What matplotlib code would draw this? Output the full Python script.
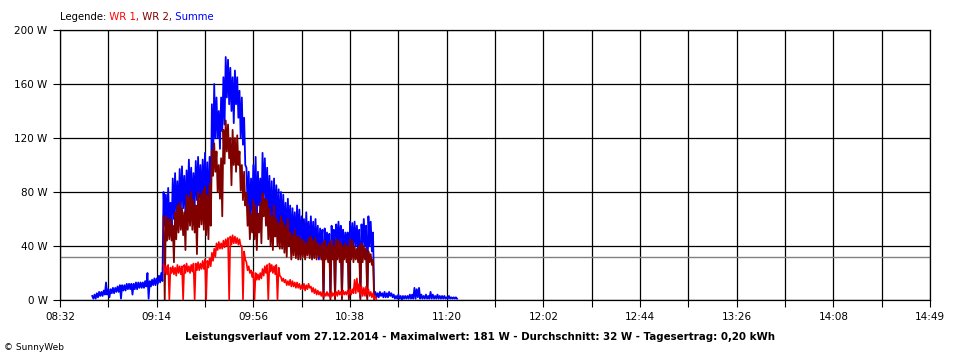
import numpy as np
import matplotlib
matplotlib.use("Agg")
import matplotlib.pyplot as plt

# time axis in minutes after midnight
t_first = 512          # 08:32
t_step = 42
tick_labels = ["08:32", "09:14", "09:56", "10:38", "11:20",
               "12:02", "12:44", "13:26", "14:08", "14:49"]
y_ticks = [0, 40, 80, 120, 160, 200]
avg_w = 32

# Summe (blue), one value pair per minute starting 08:46
sum_start = 526
sum_hi = [3, 4, 5, 6, 6, 7, 13, 8, 8, 9, 9, 10, 11, 11, 11, 12, 12, 12, 12, 13, 13,
          13, 13, 14, 20, 14, 15, 16, 16, 18, 20,
          80, 78, 83, 72, 90, 94, 88, 97, 99, 92, 96, 104, 98, 94, 103, 106, 100, 104,
          109, 102, 106, 145, 160, 150, 140, 150, 165, 180, 178, 172, 165, 170, 165,
          155, 150, 135, 98, 95, 90, 100, 106, 95, 90, 109, 105, 98, 92, 88, 90, 85,
          82, 80, 78, 72, 75, 70, 68, 65, 70, 67, 62, 60, 65, 58, 62, 58, 60, 55,
          53, 52, 53, 50, 49, 55, 52, 56, 58, 55, 52, 50, 50, 58, 57, 58, 55, 52, 56,
          60, 55, 62, 58, 50,
          6, 5, 6, 5, 6, 5, 6, 5, 4, 3, 4, 3,
          3, 3, 3, 4, 4, 9, 8, 9, 4, 3, 4, 3, 6, 4, 3, 4, 3, 3, 3, 2, 3, 2, 2, 2]
sum_lo = [1, 1, 2, 3, 3, 4, 4, 2, 5, 5, 6, 6, 1, 7, 7, 8, 8, 4, 8, 8, 9,
          9, 9, 10, 1, 10, 11, 11, 12, 13, 14,
          55, 56, 58, 54, 60, 62, 58, 66, 68, 62, 70, 72, 66, 68, 74, 76, 70, 72,
          66, 62, 70, 100, 120, 120, 112, 125, 130, 150, 145, 140, 131, 145, 135,
          120, 115, 100, 70, 60, 62, 65, 55, 70, 60, 75, 70, 60, 55, 50, 58, 52,
          48, 50, 45, 42, 48, 40, 44, 38, 42, 40, 38, 35, 40, 36, 35, 32, 36, 30,
          35, 2, 38, 36, 2, 38, 2, 40, 38, 2, 36, 38, 2, 40, 38, 40, 36, 2, 38,
          40, 2, 40, 36, 2,
          2, 2, 3, 2, 2, 2, 3, 2, 1, 1, 1, 0,
          1, 1, 1, 1, 1, 1, 2, 1, 1, 1, 1, 1, 1, 1, 1, 1, 1, 1, 1, 1, 1, 1, 1, 1]

# WR 1 (red), from 09:17
wr1_start = 557
wr1_hi = [26, 25, 26, 24, 25, 24, 26, 25, 25, 26, 27, 25, 26, 27, 27, 28, 27, 29,
          30, 29, 31, 35, 38, 42, 43, 42, 44, 45, 46, 47, 48, 47, 46, 45, 40, 36,
          28, 25, 22, 21, 20, 19, 20, 23, 25, 26, 27, 26, 25, 26, 24, 17, 16, 15,
          14, 15, 14, 13, 13, 12, 11, 12, 11, 12, 10, 9, 8, 7, 6, 6, 5, 6, 5, 6,
          5, 6, 7, 6, 7, 6, 7, 8, 8, 15, 16, 12, 10, 9, 10, 8, 6, 5, 3]
wr1_lo = [20, 19, 0, 20, 19, 18, 20, 19, 0, 20, 21, 20, 21, 0, 22, 22, 23, 23,
          0, 24, 25, 29, 32, 37, 38, 38, 39, 40, 0, 41, 42, 42, 41, 40, 0, 30,
          22, 20, 17, 0, 15, 15, 16, 18, 20, 0, 21, 20, 19, 0, 18, 14, 13, 11,
          11, 10, 10, 9, 9, 8, 8, 7, 8, 9, 6, 5, 4, 4, 3, 3, 3, 3, 2, 3,
          3, 3, 4, 3, 4, 4, 4, 4, 5, 5, 6, 4, 3, 3, 4, 3, 2, 1, 0]

# WR 2 (dark red), from 09:17
wr2_start = 557
wr2_hi = [62, 62, 60, 60, 55, 65, 70, 72, 68, 65, 78, 76, 80, 74, 70, 80, 78, 81,
          84, 78, 86, 111, 116, 110, 100, 105, 126, 133, 130, 120, 126, 120, 122,
          110, 100, 95, 79, 70, 64, 74, 70, 64, 72, 79, 75, 74, 68, 62, 70, 60, 57,
          62, 58, 55, 60, 50, 48, 52, 47, 47, 45, 44, 42, 46, 47, 44, 46, 42, 40,
          42, 44, 40, 42, 44, 40, 45, 44, 42, 40, 42, 40, 45, 44, 40, 38, 40, 42,
          40, 38, 36, 34, 30]
wr2_lo = [0, 44, 45, 44, 28, 45, 50, 52, 48, 37, 52, 55, 52, 50, 34, 54, 56, 52,
          48, 45, 55, 92, 95, 80, 75, 62, 101, 110, 105, 85, 100, 95, 100,
          81, 74, 70, 55, 45, 50, 45, 37, 50, 42, 62, 55, 45, 40, 37, 47, 40, 38,
          38, 35, 32, 40, 30, 33, 31, 30, 30, 32, 30, 33, 31, 30, 31, 30, 32, 30,
          0, 30, 28, 0, 30, 0, 30, 28, 0, 30, 28, 0, 30, 28, 30, 28, 0, 28,
          30, 0, 28, 26, 0]


def zigzag(start, hi, lo):
    t = np.arange(start, start + len(hi), dtype=float)
    x = np.column_stack([t, t + 0.5]).ravel()
    y = np.column_stack([hi, lo]).ravel()
    return x, y


fig = plt.figure(figsize=(9.6, 3.6), dpi=100)
ax = fig.add_axes([60 / 960, 60 / 360, 870 / 960, 270 / 360])

x, y = zigzag(sum_start, sum_hi, sum_lo)
ax.plot(x, y, color="#0000ff", lw=1.3, zorder=3)
x, y = zigzag(wr2_start, wr2_hi, wr2_lo)
ax.plot(x, y, color="#800000", lw=1.3, zorder=4)
x, y = zigzag(wr1_start, wr1_hi, wr1_lo)
ax.plot(x, y, color="#ff0000", lw=1.2, zorder=5)

ax.axhline(avg_w, color="#808080", lw=1.0, zorder=2)

t_end = t_first + t_step * (len(tick_labels) - 1)
ax.set_xlim(t_first, t_end)
ax.set_ylim(0, 200)
major = [t_first + i * t_step for i in range(len(tick_labels))]
minor = [m + t_step / 2 for m in major[:-1]]
ax.set_xticks(major)
ax.set_xticklabels(tick_labels)
ax.set_xticks(minor, minor=True)
ax.set_yticks(y_ticks)
ax.set_yticklabels([f"{v} W" for v in y_ticks])
ax.tick_params(which="both", direction="out", length=5, width=0.8,
               color="black", labelsize=7.5, pad=4)
ax.grid(True, which="both", color="black", lw=0.9, zorder=1)
ax.set_axisbelow(True)
for s in ax.spines.values():
    s.set_color("black")
    s.set_linewidth(0.9)

# legend line on top
t0 = fig.text(60 / 960, 1 - 17 / 360, "Legende:", fontsize=7.3, va="center")
t1 = ax.annotate(" WR 1,", xy=(1, 0), xycoords=t0, color="#ff0000",
                 fontsize=7.3, va="bottom", annotation_clip=False)
t2 = ax.annotate(" WR 2,", xy=(1, 0), xycoords=t1, color="#800000",
                 fontsize=7.3, va="bottom", annotation_clip=False)
ax.annotate(" Summe", xy=(1, 0), xycoords=t2, color="#0000ff",
            fontsize=7.3, va="bottom", annotation_clip=False)

fig.text(480 / 960, 1 - 337 / 360,
         "Leistungsverlauf vom 27.12.2014 - Maximalwert: 181 W - "
         "Durchschnitt: 32 W - Tagesertrag: 0,20 kWh",
         ha="center", va="center", fontsize=7.4, fontweight="bold")
fig.text(4 / 960, 1 - 348 / 360, "© SunnyWeb", fontsize=6.5, va="center")

fig.savefig("out.png", dpi=100)
